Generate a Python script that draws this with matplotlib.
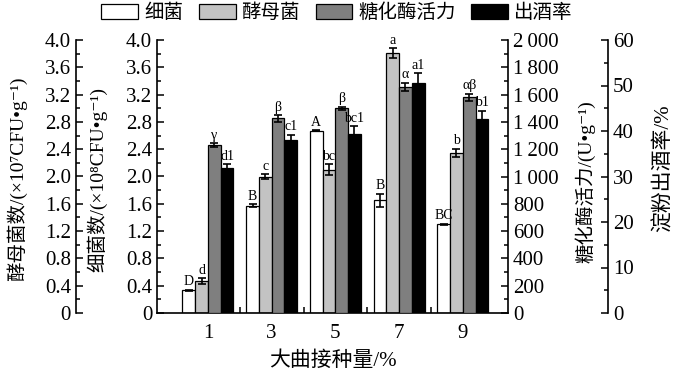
import numpy as np
import matplotlib
matplotlib.use('Agg')
import matplotlib.pyplot as plt
from matplotlib.patches import Patch
from matplotlib.ticker import MultipleLocator, FuncFormatter

plt.rcParams['font.family'] = ['Liberation Serif', 'DejaVu Serif', 'Noto Sans CJK SC']
plt.rcParams['axes.unicode_minus'] = False

# data
doses = ['1', '3', '5', '7', '9']
bacteria = [0.33, 1.57, 2.67, 1.65, 1.30]          # x10^8 CFU/g
bacteria_err = [0.01, 0.02, 0.01, 0.10, 0.01]
bacteria_lab = ['D', 'B', 'A', 'B', 'BC']
yeast = [0.47, 2.00, 2.10, 3.81, 2.35]             # x10^7 CFU/g
yeast_err = [0.04, 0.03, 0.08, 0.07, 0.06]
yeast_lab = ['d', 'c', 'bc', 'a', 'b']
enzyme = [1231, 1426, 1500, 1658, 1580]            # U/g
enzyme_err = [15, 25, 10, 30, 28]
enzyme_lab = ['γ', 'β', 'β', 'α', 'αβ']
rate = [31.8, 38.0, 39.3, 50.5, 42.6]              # %
rate_err = [0.9, 1.2, 1.8, 2.2, 1.9]
rate_lab = ['d1', 'c1', 'bc1', 'a1', 'b1']

W, H = 678, 379
fig = plt.figure(figsize=(W / 100, H / 100), dpi=100)
x0, x1, y0, y1 = 157, 508, 313, 40
ax = fig.add_axes([x0 / W, 1 - y0 / H, (x1 - x0) / W, (y0 - y1) / H])
ax_y = ax.twinx()
ax_e = ax.twinx()
ax_r = ax.twinx()

x = np.arange(len(doses))
bw = 0.2
ekw = dict(ecolor='black', elinewidth=1.2, capsize=3, capthick=1.2)


def draw(a, offset, vals, errs, labs, color):
    a.bar(x + offset, vals, bw, color=color, edgecolor='black', linewidth=0.9,
          yerr=errs, error_kw=ekw, zorder=2)
    for xi, v, e, t in zip(x, vals, errs, labs):
        a.annotate(t, (xi + offset, v + e), xytext=(0, 1), textcoords='offset points',
                   ha='center', va='bottom', fontsize=10)


draw(ax, -0.3, bacteria, bacteria_err, bacteria_lab, 'white')
draw(ax, -0.1, yeast, yeast_err, yeast_lab, '#c3c3c3')
draw(ax_e, 0.1, enzyme, enzyme_err, enzyme_lab, '#7f7f7f')
draw(ax_r, 0.3, rate, rate_err, rate_lab, 'black')

ax.set_xlim(-0.8, 4.71)
ax.set_ylim(0, 4.0)
ax_y.set_ylim(0, 4.0)
ax_e.set_ylim(0, 2000)
ax_r.set_ylim(0, 60)

fmt_dec = FuncFormatter(lambda v, p: '0' if abs(v) < 1e-9 else '%.1f' % v)
fmt_thou = FuncFormatter(lambda v, p: ('%d\u2009%03d' % (v // 1000, v % 1000)) if v >= 1000 else '%d' % v)

for a in (ax, ax_y, ax_e, ax_r):
    for s in a.spines.values():
        s.set_visible(False)
        s.set_linewidth(1.2)
    a.tick_params(axis='y', which='both', direction='in', labelsize=15, width=1.1)
    a.tick_params(axis='y', which='major', length=5)
    a.tick_params(axis='y', which='minor', length=3)

ax.spines['left'].set_visible(True)
ax.spines['bottom'].set_visible(True)
ax.yaxis.set_major_locator(MultipleLocator(0.4))
ax.yaxis.set_minor_locator(MultipleLocator(0.2))
ax.yaxis.set_major_formatter(fmt_dec)

ax_y.spines['left'].set_visible(True)
ax_y.spines['left'].set_position(('axes', -0.231))
ax_y.yaxis.set_ticks_position('left')
ax_y.yaxis.set_label_position('left')
ax_y.yaxis.set_major_locator(MultipleLocator(0.4))
ax_y.yaxis.set_minor_locator(MultipleLocator(0.2))
ax_y.yaxis.set_major_formatter(fmt_dec)

ax_e.spines['right'].set_visible(True)
ax_e.yaxis.set_major_locator(MultipleLocator(200))
ax_e.yaxis.set_minor_locator(MultipleLocator(100))
ax_e.yaxis.set_major_formatter(fmt_thou)

ax_r.spines['right'].set_visible(True)
ax_r.spines['right'].set_position(('axes', 1.285))
ax_r.yaxis.set_major_locator(MultipleLocator(10))
ax_r.yaxis.set_minor_locator(MultipleLocator(5))

# x axis: labels at group centres, small ticks between groups
ax.set_xticks(x)
ax.set_xticklabels(doses)
ax.set_xticks(x[:-1] + 0.5, minor=True)
ax.tick_params(axis='x', which='major', length=0, labelsize=15, pad=8)
ax.tick_params(axis='x', which='minor', direction='in', length=4, width=1.1)
ax.set_xlabel('大曲接种量/%', fontsize=15, labelpad=6)

ax_y.set_ylabel('酵母菌数/(×10⁷CFU•g⁻¹)', fontsize=14)
ax.set_ylabel('细菌数/(×10⁸CFU•g⁻¹)', fontsize=14)
ax_e.set_ylabel('糖化酶活力/(U•g⁻¹)', fontsize=14)
ax_r.set_ylabel('淀粉出酒率/%', fontsize=15)
ax_y.yaxis.set_label_coords(-0.37, 0.49)
ax.yaxis.set_label_coords(-0.142, 0.49)
ax_e.yaxis.set_label_coords(1.19, 0.48)
ax_r.yaxis.set_label_coords(1.413, 0.53)

handles = [Patch(facecolor=c, edgecolor='black', linewidth=0.9)
           for c in ('white', '#c3c3c3', '#7f7f7f', 'black')]
fig.legend(handles, ['细菌', '酵母菌', '糖化酶活力', '出酒率'], loc='center',
           bbox_to_anchor=(337 / W, 1 - 13 / H), ncol=4, frameon=False, fontsize=14,
           handlelength=1.9, handleheight=0.8, handletextpad=0.3, columnspacing=0.8,
           borderaxespad=0)

fig.savefig('out.png', dpi=100)
